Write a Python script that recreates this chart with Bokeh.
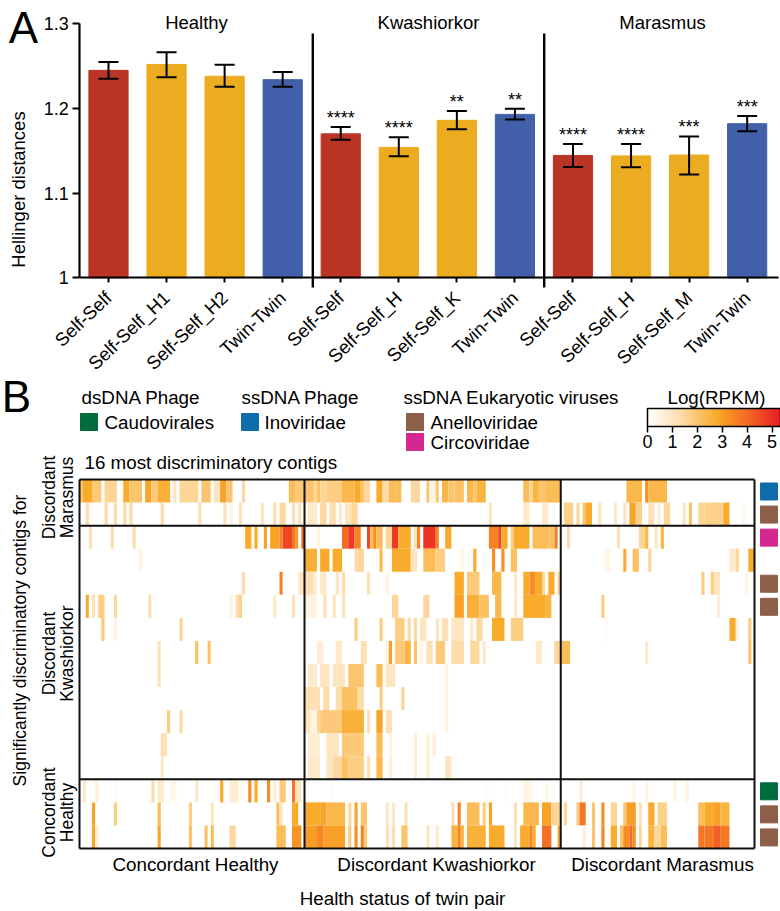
import math
import numpy as np
from bokeh.plotting import figure
from bokeh.models import (ColumnDataSource, Label, Whisker, TeeHead, Arrow, FixedTicker,
                          LinearColorMapper, ColorBar, Range1d)
from bokeh.embed import file_html
from bokeh.resources import INLINE
from bokeh.transform import transform

# ---------- panel A data ----------
bar_labels = ["Self-Self", "Self-Self_H1", "Self-Self_H2", "Twin-Twin",
              "Self-Self", "Self-Self_H", "Self-Self_K", "Twin-Twin",
              "Self-Self", "Self-Self_H", "Self-Self_M", "Twin-Twin"]
bar_values = [1.245, 1.252, 1.238, 1.234, 1.170, 1.154, 1.186, 1.193, 1.1445, 1.144, 1.145, 1.182]
err_upper = [1.255, 1.2665, 1.2515, 1.243, 1.178, 1.166, 1.197, 1.1996, 1.158, 1.158, 1.167, 1.191]
err_lower = [1.235, 1.237, 1.2255, 1.2255, 1.163, 1.1436, 1.1755, 1.187, 1.131, 1.1305, 1.122, 1.173]
stars = ["", "", "", "", "****", "****", "**", "**", "****", "****", "***", "***"]
bar_colors = ["#BB3526", "#EBAC20", "#EBAC20", "#4260AA"] * 3
group_names = ["Healthy", "Kwashiorkor", "Marasmus"]

# ---------- panel B data: per row, runs of (first column, end column, shade level) ----------
healthy_runs = [
    [(0,1,1.5),(1,4,2),(4,7,1.3),(8,12,1),(14,16,2),(16,20,1.4),(21,23,2.2),(23,25,1.3),(25,29,1.9),(30,31,.6),(32,38,1),(39,42,1.4),(43,45,.6),(45,47,2.3),(47,49,1.4),(52,53,.9),(67,69,1.6),(69,72,1.3)],
    [(2,3,.8),(8,9,.8),(11,12,.8),(14,15,.8),(16,17,.8),(26,27,.8),(38,39,.7),(46,47,.7),(48,49,.3),(51,52,.7),(58,59,.6),(62,63,.8),(64,66,.9),(68,69,.7),(70,71,.7)],
    [(3,4,.7),(10,11,.8),(17,18,.8),(53,55,2),(56,57,2),(59,60,2.3),(61,64,2.2),(64,65,3),(65,68,4),(68,69,3.2),(69,70,2.5),(71,72,3.5)],
    [(19,20,.3)],
    [(52,53,.8),(64,65,3),(70,72,.6)],
    [(2,3,2),(4,5,.7),(6,8,1.2),(11,12,.9),(22,23,.7),(48,49,.3),(50,51,.8),(51,52,1.1),(62,63,.5),(68,69,.7)],
    [(7,8,1.3),(11,12,.3),(32,33,1)],
    [(25,26,.7),(37,38,1.5),(41,42,1.5)],
    [(25,26,.7)],
    [],
    [(28,29,1.2),(32,33,.8)],
    [(26,28,.7)],
    [(26,27,.5)],
    [(1,2,.5),(5,6,.4),(11,12,.15),(23,24,.8),(25,27,.5),(29,31,.2),(37,38,.5),(45,46,2),(48,51,.4),(54,55,2.8),(56,57,2),(60,61,2.8),(62,63,.4),(64,66,1.3),(68,69,3.2),(69,71,.6)],
    [(4,5,2.2),(11,12,1.2),(25,26,1.6),(35,36,1.2),(42,43,.6),(63,64,1.6),(64,65,.6),(68,70,2)],
    [(4,5,2.2),(5,6,.4),(25,26,2.2),(35,36,1.5),(40,41,1.5),(42,43,1.6),(48,50,.9),(63,66,1.6),(68,71,2.6)],
]
kwashiorkor_runs = [
    [(0,3,1.4),(3,4,1),(4,5,1.5),(5,7,1),(7,12,1.2),(12,16,1.7),(16,18,2),(18,19,1.5),(19,21,.9),(23,25,2),(25,27,.8),(27,29,1.6),(29,31,1.6),(34,37,.9),(39,40,1.4),(40,42,.3),(42,43,1.3),(44,46,1.7),(46,48,1.4),(48,51,1.5),(52,54,1.7),(54,55,1.4),(55,58,1.8),(70,72,1.6),(72,73,1),(73,75,1.8),(75,77,1.4),(77,82,1.6)],
    [(0,1,.1),(1,4,.5),(5,7,.9),(8,9,.8),(9,10,.8),(11,12,.5),(13,15,.6),(15,17,1),(59,60,.6),(70,72,.5),(76,78,.5)],
    [(4,5,.3),(12,14,3.4),(14,16,4.2),(16,18,3),(20,21,4),(21,22,1.6),(22,23,2.8),(23,25,1.6),(26,28,1),(28,30,4.2),(30,34,2),(35,36,.7),(36,37,3),(38,42,4.3),(42,43,3),(45,47,2),(59,62,3),(62,63,4),(63,65,2),(66,67,1.2),(67,72,2),(73,78,1.6),(78,80,1.5),(80,81,3)],
    [(0,4,1.9),(5,8,2),(9,12,2),(16,17,.9),(17,19,1),(24,25,1.7),(28,34,2),(34,36,.6),(38,42,1.6),(42,45,1.2),(50,51,.2),(54,55,2),(60,61,2.8),(63,64,2.8),(66,68,1.5)],
    [(0,3,.7),(3,4,.4),(5,7,.5),(10,11,.6),(12,13,.8),(20,21,.7),(26,27,.3),(48,51,2),(52,56,1.3),(60,63,1.7),(67,68,.5),(70,72,2),(72,74,2.8),(74,76,2),(76,77,1),(78,80,2),(81,82,1)],
    [(0,4,.3),(6,7,.7),(9,10,.6),(12,13,.6),(28,30,1),(38,40,.9),(48,51,2.3),(52,56,1.9),(56,59,1.5),(61,63,1.7),(67,68,.5),(70,77,2),(77,79,1.8)],
    [(16,17,1.2),(24,25,1.2),(29,32,1.2),(33,34,.9),(35,36,.9),(37,39,.6),(42,43,.6),(44,46,.7),(47,51,.6),(53,54,.5),(55,57,.9),(60,64,2),(66,70,1.2)],
    [(4,6,.4),(10,12,.5),(18,20,.7),(26,27,.3),(27,28,2.3),(29,32,1.3),(32,34,1.8),(35,36,1.5),(37,38,.3),(39,41,.7),(42,45,1.3),(47,51,.8),(53,56,.9),(57,58,.5),(74,76,.5),(80,82,1)],
    [(1,4,.5),(5,8,.6),(9,13,.6),(14,19,1.4),(23,25,1.6),(26,29,.6),(45,46,.3)],
    [(0,5,.7),(6,8,.8),(10,12,.8),(12,17,1.5),(17,19,.8),(24,25,1.2),(31,32,1),(45,46,.3)],
    [(0,2,.6),(2,4,.3),(4,5,1),(5,12,1.3),(12,19,1.9),(20,21,.7),(23,25,2.2),(26,28,.7),(45,46,.3)],
    [(1,5,.4),(7,11,.6),(12,19,1.3),(23,25,1.6),(27,28,.3),(35,36,.4),(39,40,.4),(41,42,.4)],
    [(1,5,.5),(7,9,.6),(9,12,.9),(12,14,1.5),(14,19,1.2),(20,21,.7),(23,25,1.7),(27,28,.4),(35,36,.4),(39,40,.4),(45,47,.6)],
    [(8,9,.1),(58,59,.1),(64,65,.1),(70,72,.3),(72,73,.2),(77,78,.2)],
    [(0,5,2),(5,7,2.2),(7,13,1.7),(14,15,.9),(16,17,2.2),(18,20,1.4),(26,27,.5),(28,29,.5),(32,33,.7),(47,48,.7),(49,50,3),(52,56,1.6),(57,58,1.2),(59,60,2.2),(67,68,.7),(70,75,1.7),(76,79,2.2),(79,82,1)],
    [(0,4,2.4),(4,6,2.9),(6,13,2.3),(14,15,1.2),(16,17,2.7),(18,19,3),(19,20,1.3),(26,27,.7),(28,29,.7),(31,33,1.4),(39,40,.6),(42,43,.5),(47,49,1.8),(49,50,3),(50,51,1.8),(52,58,1.9),(59,64,2),(67,68,.6),(69,72,2),(72,73,3),(73,74,2),(76,79,3.3),(81,82,2)],
]
marasmus_runs = [
    [(21,26,1.7),(27,28,2.7),(28,34,1.7)],
    [(1,4,1.1),(5,6,1),(7,8,1.5),(8,10,2),(12,13,.6),(17,18,.5),(20,21,.6),(22,24,2.2),(24,26,1.1),(28,30,.7),(31,32,.4),(33,35,1),(39,40,.6),(41,42,1.5),(44,46,1),(46,52,1.1),(52,54,2),(58,59,.2)],
    [(2,3,.8),(18,19,.7),(25,27,1),(27,28,1.7),(30,31,.6),(32,33,1.8)],
    [(14,16,.2),(20,21,2),(23,25,1.5),(28,29,1),(54,56,.5),(56,57,1),(60,62,2)],
    [(45,46,1.2),(48,49,1.2),(49,51,.6),(59,60,.3)],
    [(13,14,1.2),(50,51,.4)],
    [(14,15,.15),(54,56,2),(56,57,.3),(60,61,1.2)],
    [(0,3,1.6),(27,28,.5),(60,61,1.5)],
    [],
    [],
    [],
    [],
    [],
    [(6,7,.4),(23,24,.3),(27,28,.3),(36,37,.3),(40,41,.3)],
    [(1,2,1),(5,6,1.2),(6,8,3.2),(10,11,1.4),(13,14,2.8),(16,18,1),(20,21,1.4),(21,24,2.4),(25,26,.7),(28,30,2),(31,34,1.1),(44,46,1.6),(46,49,2),(49,51,2.3),(51,54,1.8)],
    [(7,8,.4),(10,11,1.4),(13,14,3),(16,18,2),(19,20,1.5),(20,22,2.8),(22,23,3.4),(23,24,2.8),(25,26,.9),(28,30,1.8),(30,32,1),(32,34,1.6),(44,46,3.2),(46,49,3.2),(49,51,3.6),(51,54,3.2)],
]
# shade levels above, read against the colour key, to Log(RPKM)
level_in = [0, .3, .7, 1.4, 2, 2.8, 3.5, 4.3, 5.34]
level_log = [0, .5, 1.2, 2, 2.8, 3.3, 4.1, 4.9, 5.34]
panel_offsets = [0, 72, 154, 216]
panel_names = ["Concordant Healthy", "Discordant Kwashiorkor", "Discordant Marasmus"]
row_breaks = [0, 2, 13, 16]
swatch_rows = [0, 1, 2, 4, 5, 13, 14, 15]
swatch_families = ["Inoviridae", "Anelloviridae", "Circoviridae", "Anelloviridae", "Anelloviridae",
                   "Caudovirales", "Anelloviridae", "Anelloviridae"]
family_colors = {"Caudovirales": "#006B3C", "Inoviridae": "#0F6CAB",
                 "Anelloviridae": "#8D5F4A", "Circoviridae": "#D4278F"}
scale_ticks = [0, 1, 2, 3, 4, 5]
stop_colors = ["#FFFFFF", "#FFF3E0", "#FDE0B4", "#FBC56E", "#F9AC2C", "#F68E22", "#F26626", "#EE3324", "#E81F25"]

FONT = "Liberation Sans"
FIG_W = 780
FIG_H = 911
CW, RH = 3.125, 23.0625


def ax_(px):
    return (px - 108) / 58.06


def ay_(py):
    return 1 + (277.3 - py) / 846.7


def bx(px):
    return (px - 79) / CW


def by(py):
    return (py - 479) / RH


# One canvas: bars on the default scales, the heat map on the "cols"/"rows" scales
p = figure(width=FIG_W, height=FIG_H, output_backend="svg", toolbar_location=None,
           x_range=Range1d(ax_(0), ax_(FIG_W)), y_range=Range1d(ay_(FIG_H), ay_(0)),
           min_border=0, outline_line_color=None)
p.extra_x_ranges = {"cols": Range1d(bx(0), bx(FIG_W))}
p.extra_y_ranges = {"rows": Range1d(by(FIG_H), by(0))}
HM = dict(x_range_name="cols", y_range_name="rows")
p.xgrid.visible = False
p.ygrid.visible = False

# ---------- Panel A ----------
idx = list(range(len(bar_values)))
src = ColumnDataSource(dict(x=idx, top=bar_values, up=err_upper, lo=err_lower, c=bar_colors, s=stars))
p.vbar(x="x", top="top", bottom=1, width=0.675, color="c", source=src)
p.add_layout(Whisker(base="x", upper="up", lower="lo", source=src, line_color="black", line_width=2,
                     level="overlay",
                     upper_head=TeeHead(size=20, line_width=2, line_color="black"),
                     lower_head=TeeHead(size=20, line_width=2, line_color="black")))
p.text(x="x", y="up", text="s", source=src, text_font={"value": FONT}, text_font_size="18px",
       text_align="center", text_baseline="alphabetic", text_color="black", y_offset=-9)
for ax in (p.xaxis[0], p.yaxis[0]):
    ax.axis_line_width = 2.2
    ax.axis_line_color = "black"
    ax.major_tick_line_width = 2
    ax.major_tick_line_color = "black"
    ax.major_tick_in = 0
    ax.minor_tick_line_color = None
    ax.major_label_text_font = FONT
    ax.major_label_text_color = "black"
p.yaxis[0].fixed_location = ax_(79.3)
p.yaxis[0].bounds = (1, 1.3)
p.yaxis[0].ticker = FixedTicker(ticks=[1, 1.1, 1.2, 1.3])
p.yaxis[0].major_label_overrides = {1: "1", 1.1: "1.1", 1.2: "1.2", 1.3: "1.3"}
p.yaxis[0].major_tick_out = 7
p.yaxis[0].major_label_text_font_size = "18px"
p.yaxis[0].major_label_standoff = 4
p.xaxis[0].fixed_location = 1
p.xaxis[0].bounds = (ax_(79.3), ax_(778))
p.xaxis[0].ticker = FixedTicker(ticks=idx)
p.xaxis[0].major_label_overrides = {i: t for i, t in enumerate(bar_labels)}
p.xaxis[0].major_tick_out = 5
p.xaxis[0].major_label_text_font_size = "18.5px"
p.xaxis[0].major_label_orientation = 0.76
p.xaxis[0].major_label_standoff = 12

for dx in (312.3, 543.7):
    p.add_layout(Arrow(x_start=ax_(dx), x_end=ax_(dx), y_start=ay_(33), y_end=ay_(287), end=None,
                       line_color="black", line_width=2.4))
for name, cx in zip(group_names, (196, 428, 662)):
    p.add_layout(Label(x=ax_(cx), y=ay_(22), text=name, text_font=FONT, text_font_size="18.5px",
                       text_align="center", text_baseline="middle", text_color="black"))
p.add_layout(Label(x=ax_(18), y=ay_(189), text="Hellinger distances", angle=math.pi / 2, text_font=FONT,
                   text_font_size="18.5px", text_align="center", text_baseline="middle", text_color="black"))
p.add_layout(Label(x=ax_(23), y=ay_(27), text="A", text_font=FONT, text_font_size="44px",
                   text_align="center", text_baseline="middle", text_color="black"))


# ---------- Panel B ----------
def hex_rgb(h):
    return tuple(int(h[i:i + 2], 16) for i in (1, 3, 5))


palette = []
hi = level_log[-1]
for k in range(256):
    v = hi * k / 255
    for a, b, ca, cb in zip(level_log, level_log[1:], stop_colors, stop_colors[1:]):
        if v <= b:
            f = (v - a) / (b - a)
            ra, rb = hex_rgb(ca), hex_rgb(cb)
            palette.append("#%02X%02X%02X" % tuple(round(ra[i] + f * (rb[i] - ra[i])) for i in range(3)))
            break
mapper = LinearColorMapper(palette=palette, low=0, high=hi)

L, R, T, B, V = [], [], [], [], []
for off, runs in zip(panel_offsets, (healthy_runs, kwashiorkor_runs, marasmus_runs)):
    for row, items in enumerate(runs):
        for s, e, val in items:
            L.append(off + s)
            R.append(off + e)
            T.append(row)
            B.append(row + 1)
            V.append(float(np.interp(val, level_in, level_log)))
p.quad(left="left", right="right", top="top", bottom="bottom", fill_color=transform("v", mapper), line_color=None,
       source=ColumnDataSource(dict(left=L, right=R, top=T, bottom=B, v=V)), **HM)

# frame lines
x0, x1 = panel_offsets[0], panel_offsets[-1]
y0, y1 = row_breaks[0], row_breaks[-1]
p.segment(x0=panel_offsets, x1=panel_offsets, y0=[y0] * 4, y1=[y1] * 4, line_color="#111111", line_width=2, **HM)
p.segment(x0=[x0] * 4, x1=[x1] * 4, y0=row_breaks, y1=row_breaks, line_color="#111111", line_width=2, **HM)

# family swatches by row
p.rect(x=[(bx(760) + bx(777)) / 2] * len(swatch_rows), y=[r + 0.52 for r in swatch_rows],
       width=17 / CW, height=17 / RH, color=[family_colors[f] for f in swatch_families], **HM)


def text_b(x, y, t, align="left", angle=0, size="18.8px"):
    p.add_layout(Label(x=bx(x), y=by(y), text=t, angle=angle, text_font=FONT, text_font_size=size,
                       text_align=align, text_baseline="middle", text_color="black", **HM))


text_b(16, 396, "B", "center", size="44px")
text_b(81, 397, "dsDNA Phage")
text_b(241, 397, "ssDNA Phage")
text_b(403, 397, "ssDNA Eukaryotic viruses")
text_b(716, 397, "Log(RPKM)", "center")
for fam, sx, sy, tx in (("Caudovirales", 80, 421.5, 104), ("Inoviridae", 241, 421.5, 264),
                        ("Anelloviridae", 406, 421.5, 430), ("Circoviridae", 406, 441.5, 430)):
    p.rect(x=[bx(sx + 8.5)], y=[by(sy)], width=17 / CW, height=17 / RH, color=family_colors[fam], **HM)
    text_b(tx, sy, fam)
text_b(84, 462, "16 most discriminatory contigs")
text_b(19, 640, "Significantly discriminatory contigs for", "center", math.pi / 2, size="17.5px")
for t, xx, yy in (("Discordant", 48, 497), ("Marasmus", 66, 497), ("Discordant", 48, 653),
                  ("Kwashiorkor", 66, 653), ("Concordant", 48, 812), ("Healthy", 66, 812)):
    text_b(xx, yy, t, "center", math.pi / 2, size="17.5px")
for t, cx in zip(panel_names, (195, 436, 662)):
    text_b(cx, 864, t, "center")
text_b(402, 898, "Health status of twin pair", "center")

bar = ColorBar(color_mapper=mapper, ticker=FixedTicker(ticks=scale_ticks), width=133, height=18,
               orientation="horizontal",
               location=(647, FIG_H - 427 - 23), padding=0, margin=0,
               major_tick_in=0, major_tick_out=6, major_tick_line_color="black", major_tick_line_width=1.5,
               minor_tick_line_color=None, bar_line_color="black", bar_line_width=1.5,
               major_label_text_font=FONT, major_label_text_font_size="18px", major_label_text_color="black",
               label_standoff=2)
p.add_layout(bar, "center")

open("out.html", "w").write(file_html(p, INLINE))
